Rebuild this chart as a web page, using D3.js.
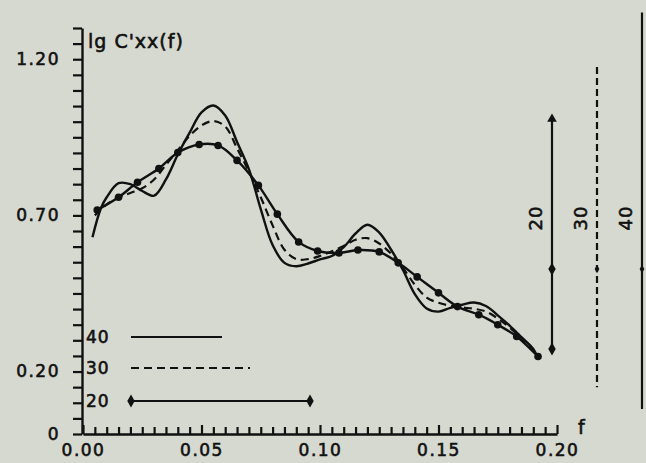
<!DOCTYPE html>
<html>
<head>
<meta charset="utf-8">
<script src="https://cdn.jsdelivr.net/npm/d3@7"></script>
<style>
  html, body { margin: 0; padding: 0; background: #d6d9d0; }
  svg { display: block; }
  text { font-family: "DejaVu Sans", sans-serif; fill: #111; stroke: #111; stroke-width: 0.6px; }
</style>
</head>
<body>
<svg id="chart" width="646" height="463"></svg>
<script>
// Smoothed log spectral density lg C'xx(f) for three lag windows (M = 40, 30, 20)
const freq40 = [0.004, 0.0075, 0.010, 0.015, 0.020, 0.025, 0.030, 0.035, 0.040, 0.045, 0.050,
  0.055, 0.060, 0.065, 0.070, 0.075, 0.080, 0.085, 0.090, 0.095, 0.100, 0.105, 0.110, 0.115,
  0.120, 0.125, 0.130, 0.135, 0.140, 0.145, 0.150, 0.155, 0.160, 0.165, 0.170, 0.175, 0.180,
  0.185, 0.190, 0.192];
const lag40 = [0.630, 0.722, 0.758, 0.803, 0.800, 0.778, 0.763, 0.815, 0.895, 0.965, 1.030,
  1.052, 1.020, 0.935, 0.848, 0.720, 0.605, 0.548, 0.537, 0.546, 0.559, 0.570, 0.598, 0.642,
  0.670, 0.645, 0.590, 0.525, 0.448, 0.402, 0.392, 0.404, 0.414, 0.421, 0.410, 0.380, 0.347,
  0.310, 0.272, 0.240];

const freq30 = [0.005, 0.010, 0.015, 0.020, 0.025, 0.030, 0.035, 0.040, 0.045, 0.050, 0.055,
  0.060, 0.065, 0.070, 0.075, 0.080, 0.085, 0.090, 0.095, 0.100, 0.105, 0.110, 0.115, 0.120,
  0.125, 0.130, 0.135, 0.140, 0.145, 0.150, 0.155, 0.160, 0.165, 0.170, 0.175, 0.180, 0.185,
  0.190, 0.192];
const lag30 = [0.700, 0.735, 0.757, 0.772, 0.787, 0.815, 0.862, 0.908, 0.955, 0.988, 1.002,
  0.985, 0.915, 0.840, 0.758, 0.668, 0.590, 0.560, 0.560, 0.570, 0.585, 0.602, 0.622, 0.627,
  0.610, 0.577, 0.532, 0.478, 0.437, 0.420, 0.411, 0.405, 0.401, 0.392, 0.370, 0.341, 0.306,
  0.268, 0.245];

const freq20 = [0.006, 0.015, 0.023, 0.032, 0.040, 0.049, 0.057, 0.065, 0.074, 0.082, 0.091,
  0.099, 0.108, 0.116, 0.125, 0.133, 0.141, 0.150, 0.158, 0.167, 0.175, 0.183, 0.192];
const lag20 = [0.717, 0.758, 0.806, 0.850, 0.901, 0.927, 0.924, 0.876, 0.796, 0.704, 0.615,
  0.586, 0.580, 0.589, 0.583, 0.548, 0.503, 0.452, 0.408, 0.382, 0.350, 0.312, 0.248];

// Axis ticks and labels
const xLabelTicks = [0.00, 0.05, 0.10, 0.15, 0.20];
const xLabels = ["0.00", "0.05", "0.10", "0.15", "0.20"];
const yLabelTicks = [0, 0.20, 0.70, 1.20];
const yLabels = ["0", "0.20", "0.70", "1.20"];

// Confidence intervals for each window, around a common reference level
const ciLags = ["20", "30", "40"];
const ciCenter = 0.528;
const ciUpper = [1.015, 1.175, 1.350];
const ciLower = [0.272, 0.150, 0.080];

const svg = d3.select("#chart");
const ink = "#111";

const x = d3.scaleLinear().domain([0, 0.20]).range([83, 557]);
const y = d3.scaleLinear().domain([0, 1.30]).range([434, 28]);

// ---- axes ----
const xMinor = d3.range(0, 41).map(i => +(i * 0.005).toFixed(3));
const yMinor = d3.range(0, 27).map(i => +(i * 0.05).toFixed(2));
const fmtX = d => {
  const i = xLabelTicks.findIndex(v => Math.abs(v - d) < 1e-9);
  return i >= 0 ? xLabels[i] : "";
};
const fmtY = d => {
  const i = yLabelTicks.findIndex(v => Math.abs(v - d) < 1e-9);
  return i >= 0 ? yLabels[i] : "";
};

const gx = svg.append("g")
  .attr("transform", `translate(0,${y(0)})`)
  .call(d3.axisBottom(x).tickValues(xMinor).tickSize(-7).tickSizeOuter(0)
    .tickPadding(13).tickFormat(fmtX));
gx.selectAll(".tick line")
  .attr("y2", d => fmtX(d) ? -9 : -7);

const gy = svg.append("g")
  .attr("transform", `translate(${x(0) - 1},0)`)
  .call(d3.axisLeft(y).tickValues(yMinor).tickSize(9).tickSizeOuter(0)
    .tickPadding(13).tickFormat(fmtY));

[gx, gy].forEach(g => {
  g.select(".domain").attr("stroke", ink).attr("stroke-width", 2.4);
  g.selectAll(".tick line").attr("stroke", ink).attr("stroke-width", 2.2);
  g.selectAll(".tick text").attr("fill", ink)
    .style("font-size", "17px").style("letter-spacing", "1.5px");
});
gx.selectAll(".tick text").attr("dy", "0.55em");

svg.append("text").attr("x", 88).attr("y", 48)
  .style("font-size", "19px").style("letter-spacing", "1px").text("lg C'xx(f)");
svg.append("text").attr("x", 578).attr("y", 434)
  .style("font-size", "19px").text("f");

// ---- curves ----
const line = d3.line()
  .x(d => x(d[0])).y(d => y(d[1]))
  .curve(d3.curveCatmullRom.alpha(0.5));

const s40 = freq40.map((f, i) => [f, lag40[i]]);
const s30 = freq30.map((f, i) => [f, lag30[i]]);
const s20 = freq20.map((f, i) => [f, lag20[i]]);

svg.append("path").datum(s40).attr("d", line)
  .attr("fill", "none").attr("stroke", ink).attr("stroke-width", 2.4)
  .attr("stroke-linejoin", "round");
svg.append("path").datum(s30).attr("d", line)
  .attr("fill", "none").attr("stroke", ink).attr("stroke-width", 2.2)
  .attr("stroke-dasharray", "8,5");
svg.append("path").datum(s20).attr("d", line)
  .attr("fill", "none").attr("stroke", ink).attr("stroke-width", 2.4);
svg.append("g").selectAll("circle").data(s20).join("circle")
  .attr("cx", d => x(d[0])).attr("cy", d => y(d[1])).attr("r", 3.8)
  .attr("fill", ink);

// ---- legend ----
const diamond = d3.symbol().type(d3.symbolDiamond).size(48);
const legend = [
  { label: "40", y: 337, x2: 222, dash: null, ends: false },
  { label: "30", y: 368, x2: 250, dash: "8,5", ends: false },
  { label: "20", y: 401, x2: 310, dash: null, ends: true }
];
legend.forEach(l => {
  svg.append("text").attr("x", 86).attr("y", l.y + 6)
    .style("font-size", "17px").style("letter-spacing", "1px").text(l.label);
  svg.append("line").attr("x1", 131).attr("x2", l.x2).attr("y1", l.y).attr("y2", l.y)
    .attr("stroke", ink).attr("stroke-width", 2.2)
    .attr("stroke-dasharray", l.dash);
  if (l.ends) {
    [131, l.x2].forEach(px => svg.append("path").attr("d", diamond)
      .attr("transform", `translate(${px},${l.y})`).attr("fill", ink));
  }
});

// ---- confidence interval bars ----
const cx = d3.scalePoint().domain(ciLags).range([552, 642]);
ciLags.forEach((k, i) => {
  const px = cx(k);
  svg.append("line").attr("x1", px).attr("x2", px)
    .attr("y1", y(ciUpper[i])).attr("y2", y(ciLower[i]))
    .attr("stroke", ink).attr("stroke-width", 2.2)
    .attr("stroke-dasharray", k === "30" ? "7,4" : null);
  svg.append("text")
    .attr("transform", `translate(${px - 15},${218}) rotate(-90)`)
    .attr("text-anchor", "middle").attr("dominant-baseline", "middle")
    .style("font-size", "18px").style("letter-spacing", "1px").text(k);
  if (k === "20") {
    svg.append("path").attr("d", d3.symbol().type(d3.symbolTriangle).size(40))
      .attr("transform", `translate(${px},${y(ciUpper[i]) + 2})`).attr("fill", ink);
    svg.append("path").attr("d", diamond)
      .attr("transform", `translate(${px},${y(ciLower[i])})`).attr("fill", ink);
    svg.append("path").attr("d", diamond)
      .attr("transform", `translate(${px},${y(ciCenter)})`).attr("fill", ink);
  } else {
    svg.append("path").attr("d", d3.symbol().type(d3.symbolDiamond).size(20))
      .attr("transform", `translate(${px},${y(ciCenter)})`).attr("fill", ink);
  }
});
</script>
</body>
</html>
